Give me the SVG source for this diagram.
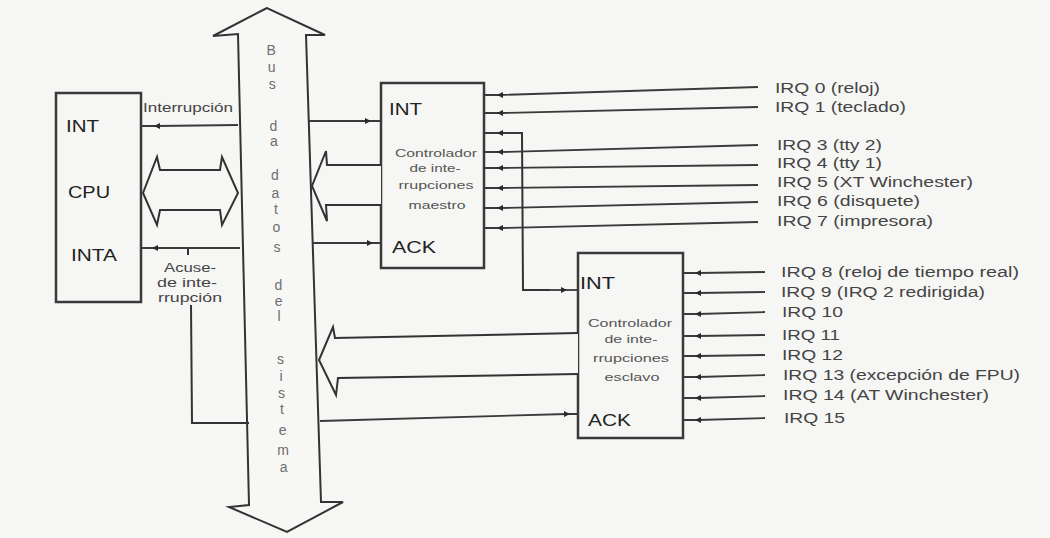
<svg xmlns="http://www.w3.org/2000/svg" width="1050" height="538" viewBox="0 0 1050 538">
<defs>
<marker id="ah" viewBox="0 0 10 10" refX="5" refY="5" markerWidth="8" markerHeight="6" orient="auto" markerUnits="userSpaceOnUse">
<path d="M0,0 L10,5 L0,10 z" fill="#2a2a2a"/>
</marker>
<style>
.bg{fill:#f6f6f4}
.box{fill:#f6f6f4;stroke:#3a3a3a;stroke-width:2.5}
.ln{fill:none;stroke:#333;stroke-width:2}
.irq{fill:none;stroke:#3a3a3a;stroke-width:1.8;marker-mid:url(#ah)}
.hol{fill:#f6f6f4;stroke:#333;stroke-width:2;stroke-linejoin:miter}
.pin{font-family:"Liberation Sans",Arial,sans-serif;font-size:16px;fill:#222}
.in{font-family:"Liberation Sans",Arial,sans-serif;font-size:11px;fill:#555;text-anchor:middle}
.lab{font-family:"Liberation Sans",Arial,sans-serif;font-size:14px;fill:#444}
.bus{font-family:"Liberation Sans",Arial,sans-serif;font-size:14px;fill:#6e6e6e;text-anchor:middle}
.cl{font-family:"Liberation Sans",Arial,sans-serif;font-size:12.5px;fill:#444}
</style>
</defs>
<rect class="bg" x="0" y="0" width="1050" height="538"/>

<g id="bus">
<polygon points="267,8 213,36 238,34 249,505 229,507 287,532 343,502 321,502 306,35 325,35" fill="#f7f7f5" stroke="#333" stroke-width="2"/>
<text class="bus" x="271.2" y="55">B</text>
<text class="bus" x="271.7" y="72">u</text>
<text class="bus" x="272.2" y="89">s</text>
<text class="bus" x="273.5" y="131">d</text>
<text class="bus" x="273.9" y="146">a</text>
<text class="bus" x="275" y="180">d</text>
<text class="bus" x="275.5" y="198">a</text>
<text class="bus" x="276" y="214">t</text>
<text class="bus" x="276.5" y="232">o</text>
<text class="bus" x="277" y="252">s</text>
<text class="bus" x="278.3" y="290">d</text>
<text class="bus" x="278.7" y="306">e</text>
<text class="bus" x="279" y="321">l</text>
<text class="bus" x="280.5" y="364">s</text>
<text class="bus" x="281" y="381">i</text>
<text class="bus" x="281.5" y="398">s</text>
<text class="bus" x="282" y="414">t</text>
<text class="bus" x="282.6" y="435">e</text>
<text class="bus" x="283.2" y="455">m</text>
<text class="bus" x="283.7" y="472">a</text>
</g>

<g id="cpu">
<rect class="box" x="56" y="93" width="85" height="209"/>
<text class="pin" x="66" y="132" textLength="33" lengthAdjust="spacingAndGlyphs">INT</text>
<text class="pin" x="68" y="198" textLength="42" lengthAdjust="spacingAndGlyphs" fill="#444">CPU</text>
<text class="pin" x="71" y="261" textLength="46" lengthAdjust="spacingAndGlyphs" fill="#444">INTA</text>
</g>

<g id="master">
<rect class="box" x="381" y="83" width="103" height="185"/>
<text class="pin" x="389" y="115" textLength="33" lengthAdjust="spacingAndGlyphs">INT</text>
<text class="in" x="436" y="157" textLength="82" lengthAdjust="spacingAndGlyphs">Controlador</text>
<text class="in" x="435" y="172" textLength="51" lengthAdjust="spacingAndGlyphs">de inte-</text>
<text class="in" x="436" y="189" textLength="75" lengthAdjust="spacingAndGlyphs">rrupciones</text>
<text class="in" x="437" y="209" textLength="57" lengthAdjust="spacingAndGlyphs">maestro</text>
<text class="pin" x="392" y="253" textLength="44" lengthAdjust="spacingAndGlyphs">ACK</text>
</g>

<g id="slave">
<rect class="box" x="578" y="253" width="105" height="185"/>
<text class="pin" x="580" y="289" textLength="35" lengthAdjust="spacingAndGlyphs">INT</text>
<text class="in" x="630" y="327" textLength="84" lengthAdjust="spacingAndGlyphs">Controlador</text>
<text class="in" x="631" y="343" textLength="53" lengthAdjust="spacingAndGlyphs">de inte-</text>
<text class="in" x="631" y="362" textLength="76" lengthAdjust="spacingAndGlyphs">rrupciones</text>
<text class="in" x="632" y="381" textLength="55" lengthAdjust="spacingAndGlyphs">esclavo</text>
<text class="pin" x="588" y="426" textLength="43" lengthAdjust="spacingAndGlyphs">ACK</text>
</g>

<g id="connectors">
<path class="irq" d="M238,125 L157,126 L141,126"/>
<text class="cl" x="143" y="112" textLength="90" lengthAdjust="spacingAndGlyphs">Interrupción</text>
<polygon class="hol" points="143,193 157,157 160,170 220,170 222,157 238,193 222,225 220,210 160,210 157,225"/>
<path class="irq" d="M240,248 L155,248 L141,248"/>
<path class="ln" d="M188,248 L188,255"/>
<text class="cl" x="190" y="272" text-anchor="middle" textLength="52" lengthAdjust="spacingAndGlyphs">Acuse-</text>
<text class="cl" x="187" y="287" text-anchor="middle" textLength="60" lengthAdjust="spacingAndGlyphs">de inte-</text>
<text class="cl" x="190" y="302" text-anchor="middle" textLength="64" lengthAdjust="spacingAndGlyphs">rrupción</text>
<path class="ln" d="M191,305 L192,423 L249,423"/>

<path class="irq" d="M309,121 L368,121 L381,121"/>
<path class="irq" d="M312,243 L370,243 L381,243"/>
<polyline class="hol" points="381,165 327,165 326,151 312,186 327,221 326,205 381,205"/>

<path class="irq" d="M758,87 L500,95 L484,95"/>
<path class="irq" d="M758,107 L500,113 L484,113"/>
<path class="irq" d="M523,133 L500,133 L484,133"/>
<path class="irq" d="M758,145 L500,152 L484,152"/>
<path class="irq" d="M758,165 L500,168 L484,168"/>
<path class="irq" d="M758,185 L500,188 L484,188"/>
<path class="irq" d="M758,202 L500,208 L484,208"/>
<path class="irq" d="M758,222 L500,228 L484,228"/>

<path class="ln" d="M522,133 L523,290 L550,290"/>
<path class="irq" d="M550,290 L564,290 L578,290"/>

<polyline class="hol" points="578,333 335,338 333,327 319,360 336,395 338,378 578,374"/>
<path class="irq" d="M320,421 L567,414 L578,414"/>

<path class="irq" d="M765,272 L698,273 L683,273"/>
<path class="irq" d="M765,292 L698,293 L683,293"/>
<path class="irq" d="M765,312 L698,314 L683,314"/>
<path class="irq" d="M765,335 L698,336 L683,336"/>
<path class="irq" d="M765,355 L698,356 L683,356"/>
<path class="irq" d="M765,375 L698,377 L683,377"/>
<path class="irq" d="M765,396 L698,398 L683,398"/>
<path class="irq" d="M765,418 L698,420 L683,420"/>
</g>

<g id="irq-labels">
<text class="lab" x="775" y="93" textLength="105" lengthAdjust="spacingAndGlyphs">IRQ 0 (reloj)</text>
<text class="lab" x="775" y="112" textLength="131" lengthAdjust="spacingAndGlyphs">IRQ 1 (teclado)</text>
<text class="lab" x="777" y="150" textLength="105" lengthAdjust="spacingAndGlyphs">IRQ 3 (tty 2)</text>
<text class="lab" x="777" y="168" textLength="105" lengthAdjust="spacingAndGlyphs">IRQ 4 (tty 1)</text>
<text class="lab" x="777" y="187" textLength="196" lengthAdjust="spacingAndGlyphs">IRQ 5 (XT Winchester)</text>
<text class="lab" x="777" y="206" textLength="143" lengthAdjust="spacingAndGlyphs">IRQ 6 (disquete)</text>
<text class="lab" x="777" y="226" textLength="156" lengthAdjust="spacingAndGlyphs">IRQ 7 (impresora)</text>
<text class="lab" x="781" y="277" textLength="238" lengthAdjust="spacingAndGlyphs">IRQ 8 (reloj de tiempo real)</text>
<text class="lab" x="781" y="297" textLength="204" lengthAdjust="spacingAndGlyphs">IRQ 9 (IRQ 2 redirigida)</text>
<text class="lab" x="782" y="317" textLength="61" lengthAdjust="spacingAndGlyphs">IRQ 10</text>
<text class="lab" x="782" y="340" textLength="58" lengthAdjust="spacingAndGlyphs">IRQ 11</text>
<text class="lab" x="782" y="360" textLength="61" lengthAdjust="spacingAndGlyphs">IRQ 12</text>
<text class="lab" x="783" y="380" textLength="237" lengthAdjust="spacingAndGlyphs">IRQ 13 (excepción de FPU)</text>
<text class="lab" x="783" y="400" textLength="206" lengthAdjust="spacingAndGlyphs">IRQ 14 (AT Winchester)</text>
<text class="lab" x="784" y="423" textLength="61" lengthAdjust="spacingAndGlyphs">IRQ 15</text>
</g>
</svg>
